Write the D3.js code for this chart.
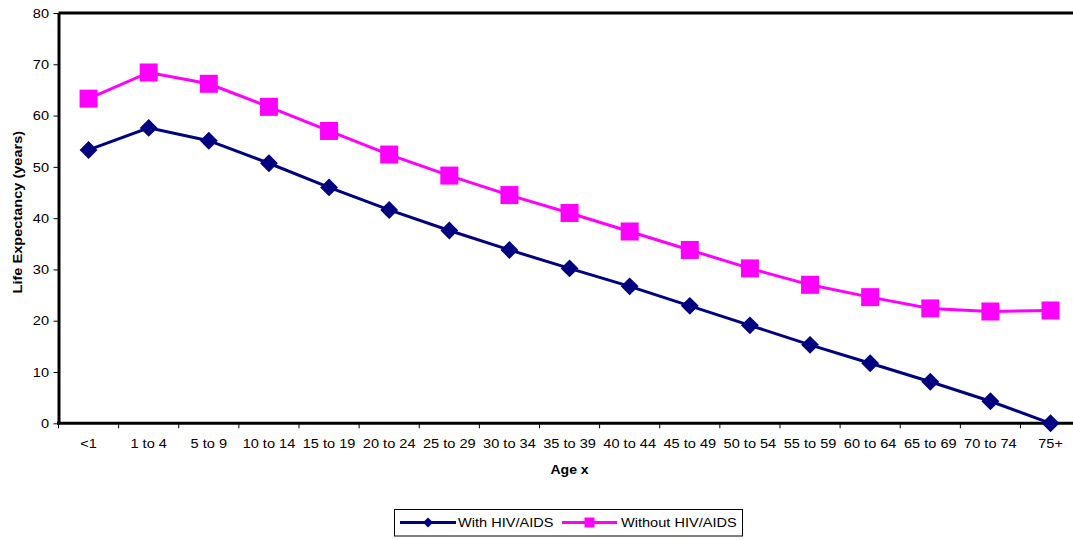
<!DOCTYPE html>
<html>
<head>
<meta charset="utf-8">
<script src="https://cdn.jsdelivr.net/npm/d3@7"></script>
<style>
  html, body { margin: 0; padding: 0; background: #fff; }
  svg { display: block; font-family: "Liberation Sans", Arial, sans-serif; }
</style>
</head>
<body>
<svg id="chart" width="1073" height="540"></svg>
<script>
// Age groups and life expectancy at age x (years)
const ageGroups = ["<1", "1 to 4", "5 to 9", "10 to 14", "15 to 19", "20 to 24", "25 to 29",
  "30 to 34", "35 to 39", "40 to 44", "45 to 49", "50 to 54", "55 to 59", "60 to 64",
  "65 to 69", "70 to 74", "75+"];
const withHiv = [53.3, 57.6, 55.1, 50.7, 46.0, 41.6, 37.6, 33.8, 30.2, 26.7, 22.9, 19.1, 15.3, 11.7, 8.1, 4.3, 0];
const withoutHiv = [63.3, 68.4, 66.2, 61.7, 57.0, 52.4, 48.3, 44.5, 41.0, 37.4, 33.8, 30.2, 27.0, 24.6, 22.4, 21.8, 22.0];
const yTicks = [0, 10, 20, 30, 40, 50, 60, 70, 80];
const seriesNames = ["With HIV/AIDS", "Without HIV/AIDS"];

const svg = d3.select("#chart");
const plot = { left: 58.5, top: 13, right: 1080.6, bottom: 423.3 };
const K = 1.12; // horizontal widening of the lettering

// Place a text element at (px, py), widened along its reading direction
function placeText(sel, px, py, rot = 0) {
  sel.attr("x", 0).attr("y", 0)
    .attr("transform", `translate(${px},${py}) rotate(${rot}) scale(${K},1)`);
  return sel;
}

const x = d3.scaleBand().domain(ageGroups).range([plot.left, plot.right]).padding(0);
const y = d3.scaleLinear().domain([0, 80]).range([plot.bottom, plot.top]);

// Top edge of the plot frame
svg.append("line")
  .attr("x1", plot.left).attr("x2", plot.right)
  .attr("y1", plot.top).attr("y2", plot.top)
  .attr("stroke", "#000").attr("stroke-width", 3);

// Y axis
const yAxis = svg.append("g").attr("transform", `translate(${plot.left},0)`)
  .call(d3.axisLeft(y).tickValues(yTicks).tickSize(5).tickSizeOuter(0).tickPadding(3));
yAxis.select(".domain").attr("stroke-width", 3);
yAxis.selectAll(".tick line").attr("stroke-width", 1);
yAxis.selectAll(".tick text")
  .attr("font-size", 13).attr("fill", "#000")
  .attr("font-family", "Liberation Sans, Arial, sans-serif")
  .attr("x", -9.5 / K)
  .attr("transform", `scale(${K},1)`);

// X axis: ticks sit on category boundaries, labels centred in each band
const xAxis = svg.append("g").attr("transform", `translate(0,${plot.bottom})`);
xAxis.append("line")
  .attr("x1", plot.left - 1.5).attr("x2", plot.right)
  .attr("stroke", "#000").attr("stroke-width", 3);
xAxis.selectAll("line.tk").data(ageGroups)
  .join("line").attr("class", "tk")
  .attr("x1", d => x(d)).attr("x2", d => x(d))
  .attr("y1", 0).attr("y2", 5)
  .attr("stroke", "#000").attr("stroke-width", 1);
xAxis.selectAll("text").data(ageGroups)
  .join("text")
  .attr("dy", "0.35em")
  .attr("text-anchor", "middle")
  .attr("font-size", 13)
  .text(d => d)
  .each(function (d) { placeText(d3.select(this), x(d) + x.bandwidth() / 2, 20); });

// Axis titles
placeText(svg.append("text")
  .attr("dy", "0.35em").attr("text-anchor", "middle")
  .attr("font-size", 12.5).attr("font-weight", "bold").text("Age x"),
  (plot.left + plot.right) / 2, 470);
placeText(svg.append("text")
  .attr("dy", "0.35em").attr("text-anchor", "middle")
  .attr("font-size", 13).attr("font-weight", "bold").text("Life Expectancy (years)"),
  17, (plot.top + plot.bottom) / 2 - 6, -90);

const cx = d => x(d) + x.bandwidth() / 2;
const line = d3.line().x(d => cx(d[0])).y(d => y(d[1]));

const navy = "#000080", magenta = "#FF00FF";
const diamond = d3.symbol().type(d3.symbolSquare).size(160);

// Series without HIV/AIDS (squares)
const woData = ageGroups.map((g, i) => [g, withoutHiv[i]]);
svg.append("path").datum(woData)
  .attr("d", line).attr("fill", "none")
  .attr("stroke", magenta).attr("stroke-width", 3);
svg.append("g").selectAll("rect").data(woData).join("rect")
  .attr("x", d => cx(d[0]) - 9).attr("y", d => y(d[1]) - 9)
  .attr("width", 18).attr("height", 18).attr("fill", magenta);

// Series with HIV/AIDS (diamonds)
const wData = ageGroups.map((g, i) => [g, withHiv[i]]);
svg.append("path").datum(wData)
  .attr("d", line).attr("fill", "none")
  .attr("stroke", navy).attr("stroke-width", 3);
svg.append("g").selectAll("path").data(wData).join("path")
  .attr("d", diamond)
  .attr("transform", d => `translate(${cx(d[0])},${y(d[1])}) rotate(45)`)
  .attr("fill", navy);

// Legend
const lg = svg.append("g");
lg.append("rect").attr("x", 394.5).attr("y", 509.5).attr("width", 348).attr("height", 26.5)
  .attr("fill", "#fff").attr("stroke", "#000").attr("stroke-width", 1);
const ly = 522.5;
const legendItems = [
  { name: seriesNames[0], color: navy, x0: 400, x1: 456, tx: 458, shape: "diamond" },
  { name: seriesNames[1], color: magenta, x0: 562, x1: 617, tx: 621, shape: "square" }
];
legendItems.forEach(it => {
  lg.append("line").attr("x1", it.x0).attr("x2", it.x1).attr("y1", ly).attr("y2", ly)
    .attr("stroke", it.color).attr("stroke-width", 3);
  const mx = (it.x0 + it.x1) / 2;
  if (it.shape === "diamond") {
    lg.append("path").attr("d", d3.symbol().type(d3.symbolSquare).size(50))
      .attr("transform", `translate(${mx},${ly}) rotate(45)`).attr("fill", it.color);
  } else {
    lg.append("rect").attr("x", mx - 5).attr("y", ly - 5).attr("width", 10).attr("height", 10)
      .attr("fill", it.color);
  }
  placeText(lg.append("text").attr("dy", "0.35em").attr("font-size", 13).text(it.name), it.tx, ly);
});
</script>
</body>
</html>
